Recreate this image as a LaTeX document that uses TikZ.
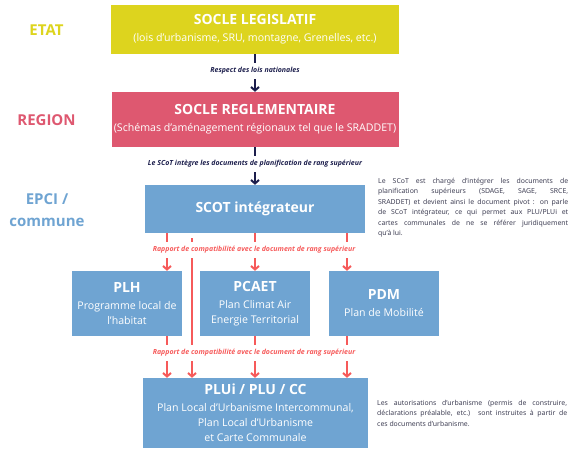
\documentclass[tikz,border=0pt]{standalone}
\usepackage{fontspec}
\setmainfont{Open Sans}
\newfontfamily\notefont{Noto Sans}
\usetikzlibrary{arrows.meta}
\definecolor{jaune}{HTML}{DDD41E}
\definecolor{rose}{HTML}{DE5870}
\definecolor{bleu}{HTML}{6FA4D2}
\definecolor{rouge}{HTML}{F65A5A}
\definecolor{marine}{HTML}{1C1E4C}
\definecolor{gris}{HTML}{404055}

\begin{document}
\begin{tikzpicture}[x=1pt,y=-1pt,
  boite/.style={fill=#1,text=white,align=center,inner sep=0pt,
    font=\fontsize{10.6}{15}\selectfont},
  niveau/.style={text=#1,align=center,font=\bfseries\fontsize{15}{22}\selectfont},
  lien/.style={text=#1,inner sep=0pt,minimum height=16pt,
    font=\bfseries\itshape\fontsize{7}{8}\selectfont},
  trait/.style={#1,line width=2pt},
  fleche/.style={#1,line width=2pt,-{Straight Barb[length=3.5pt,width=8pt]}},
  note/.style={text=gris,anchor=north west,inner sep=0pt,text width=190pt,
    align=justify,font=\notefont\fontsize{6.9}{10.5}\selectfont}]
  \useasboundingbox (0,0) rectangle (568,448);
  \newcommand{\titre}[1]{{\bfseries\fontsize{14}{16}\selectfont #1}}

  % niveaux
  \node[niveau=jaune] (etat) at (46.5,30) {ETAT};
  \node[niveau=rose] (region) at (46.5,120) {REGION};
  \node[niveau=bleu] (epci) at (47,210) {EPCI /\\commune};

  % documents
  \node[boite=jaune,minimum width=288pt,minimum height=49pt] (legis) at (255,29.5)
    {\titre{SOCLE LEGISLATIF}\\[2pt](lois d’urbanisme, SRU, montagne, Grenelles, etc.)};
  \node[boite=rose,minimum width=287pt,minimum height=55pt] (regl) at (255,119.5)
    {\titre{SOCLE REGLEMENTAIRE}\\[2pt](Schémas d’aménagement régionaux tel que le SRADDET)};
  \node[boite=bleu,minimum width=220pt,minimum height=48pt] (scot) at (255,209)
    {\titre{SCOT intégrateur}};
  \node[boite=bleu,minimum width=110pt,minimum height=65pt] (plh) at (127,303.5)
    {\titre{PLH}\\[2pt]Programme local de\\l’habitat};
  \node[boite=bleu,minimum width=110pt,minimum height=65pt] (pcaet) at (255,303.5)
    {\titre{PCAET}\\[2pt]Plan Climat Air\\Energie Territorial};
  \node[boite=bleu,minimum width=110pt,minimum height=65pt] (pdm) at (384,303.5)
    {\titre{PDM}\\[2pt]Plan de Mobilité};
  \node[boite=bleu,minimum width=225pt,minimum height=70pt] (plui) at (255.5,413)
    {\titre{PLUi / PLU / CC}\\[2pt]Plan Local d’Urbanisme Intercommunal,\\Plan Local d’Urbanisme\\et Carte Communale};

  % liens
  \node[lien=marine] (respect) at (255,71) {Respect des lois nationales};
  \node[lien=marine] (integre) at (255,164) {Le SCoT intègre les documents de planification de rang supérieur};
  \node[lien=rouge] (rapport1) at (254,250) {Rapport de compatibilité avec le document de rang supérieur};
  \node[lien=rouge] (rapport2) at (254,353) {Rapport de compatibilité avec le document de rang supérieur};
  \coordinate (xa) at (167,0);
  \coordinate (xb) at (192,0);
  \coordinate (xc) at (255,0);
  \coordinate (xd) at (347,0);

  \draw[trait=marine] (legis) -- (respect);
  \draw[fleche=marine] (respect) -- (regl);
  \draw[trait=marine] (regl) -- (integre);
  \draw[fleche=marine] (integre) -- (scot);

  \foreach \x/\cible in {xa/plh,xc/pcaet,xd/pdm} {
    \draw[trait=rouge] (scot.south -| \x) -- (rapport1.north -| \x);
    \draw[fleche=rouge] (rapport1.south -| \x) -- (\cible.north -| \x);
    \draw[trait=rouge] (\cible.south -| \x) -- (rapport2.north -| \x);
    \draw[fleche=rouge] (rapport2.south -| \x) -- (plui.north -| \x);
  }
  \draw[trait=rouge,shorten <=5pt] (scot.south -| xb) -- (rapport1.north -| xb);
  \draw[trait=rouge] (rapport1.south -| xb) -- (rapport2.north -| xb);
  \draw[fleche=rouge] (rapport2.south -| xb) -- (plui.north -| xb);

  % notes
  \node[note] (note1) at (378,178) {Le SCoT est chargé d’intégrer les documents de\linebreak
    planification supérieurs (SDAGE, SAGE, SRCE,\linebreak
    SRADDET) et devient ainsi le document pivot : on parle\linebreak
    de SCoT intégrateur, ce qui permet aux PLU/PLUi et\linebreak
    cartes communales de ne se référer juridiquement\linebreak
    qu’à lui.};
  \node[note] (note2) at (377,400) {Les autorisations d’urbanisme (permis de construire,\linebreak
    déclarations préalable, etc.) sont instruites à partir de\linebreak
    ces documents d’urbanisme.};
\end{tikzpicture}
\end{document}
